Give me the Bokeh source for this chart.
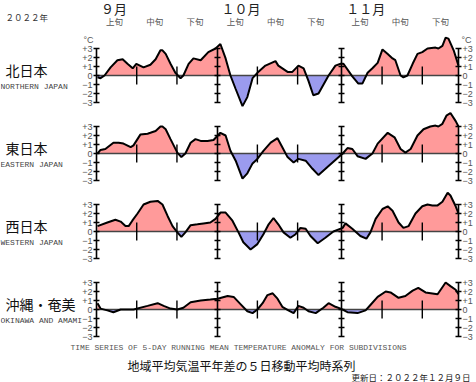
from bokeh.plotting import figure
from bokeh.models import Range1d, LinearAxis, FixedTicker, Label
from bokeh.embed import file_html
from bokeh.resources import INLINE

# ---------------- data ----------------
YEAR_LABEL = "２０２２年"
MONTH_LABELS = ["９月", "１０月", "１１月"]
MONTH_STARTS = [0, 30, 61]          # days since 1 Sep
PERIOD_END = 90                     # 30 Nov
DEKAD_LABELS = ["上旬", "中旬", "下旬"]
DEKAD_STARTS = [0, 10, 20, 30, 40, 50, 61, 71, 81]
TICKS = [-3, -2, -1, 0, 1, 2, 3]
TICK_LABELS = ["−3", "−2", "−1", "0", "+1", "+2", "+3"]
UNIT_LABEL = "°C"

REGION_JA = ["北日本", "東日本", "西日本", "沖縄・奄美"]
REGION_EN = ["NORTHERN JAPAN", "EASTERN JAPAN", "WESTERN JAPAN", "OKINAWA AND AMAMI"]

FOOT_EN = "TIME SERIES OF 5-DAY RUNNING MEAN TEMPERATURE ANOMALY FOR SUBDIVISIONS"
FOOT_JA = "地域平均気温平年差の５日移動平均時系列"
UPDATED = "更新日：２０２２年１２月９日"

NORTH_DAYS = [0.25, 1.0, 2.0, 3.5, 5.2, 6.5, 7.7, 9.0, 9.9, 11.7, 13.4, 14.7, 15.9, 16.4,
              17.2, 18.4, 19.6, 20.9, 21.6, 22.9, 24.1, 25.9, 27.8, 29.6, 30.8, 32.1, 33.3,
              34.6, 36.3, 37.5, 38.8, 40.0, 42.0, 44.5, 45.2, 47.5, 48.7, 50.2, 51.5, 52.7,
              53.9, 55.2, 57.7, 59.4, 60.7, 61.4, 63.6, 65.1, 66.1, 67.4, 68.6, 69.9, 71.1,
              72.4, 73.6, 74.3, 75.6, 76.3, 77.3, 78.6, 79.8, 81.0, 82.3, 84.3, 85.0, 86.0,
              86.8, 87.5, 88.8, 90.0]
NORTH_VALS = [-0.2, -0.3, 0.0, 0.9, 1.7, 1.8, 1.3, 0.8, 1.3, 0.9, 1.2, 1.8, 2.8, 2.8,
              2.4, 1.3, 0.3, -0.3, 0.0, 1.3, 1.9, 1.7, 2.6, 3.0, 3.5, 1.9, 0.0,
              -1.5, -3.4, -2.4, -0.3, 0.3, 1.1, 1.6, 1.1, 0.4, 0.4, 1.1, 0.8, -0.6,
              -2.2, -2.0, 0.0, 1.1, 1.3, 1.3, -0.1, -0.9, -0.9, 0.3, 0.8, 1.4, 2.9,
              2.4, 1.9, 1.7, 0.0, -0.2, 0.0, 1.3, 2.4, 2.6, 3.0, 3.1, 3.0, 3.3,
              4.2, 4.1, 2.8, 1.1]

EAST_DAYS = [0.25, 1.0, 2.2, 4.2, 5.5, 6.7, 8.5, 9.2, 10.9, 12.7, 13.4, 14.7, 15.9, 16.4,
             17.2, 18.4, 20.1, 21.1, 22.1, 23.4, 24.6, 25.9, 27.6, 29.1, 30.8, 32.1, 33.3,
             34.6, 36.3, 37.5, 38.8, 40.0, 41.5, 43.3, 45.0, 46.2, 47.5, 49.0, 50.2, 52.0,
             53.7, 55.2, 57.7, 61.2, 62.4, 63.6, 64.9, 66.9, 68.6, 69.9, 72.4, 74.1, 75.6,
             76.8, 78.1, 79.8, 81.3, 83.0, 84.3, 85.0, 86.0, 87.0, 88.0, 89.3, 90.0]
EAST_VALS = [0.0, 0.4, 0.5, 1.2, 1.2, 1.1, 0.7, 0.9, 2.1, 2.2, 2.3, 2.5, 3.0, 3.0,
             2.7, 1.6, 0.1, -0.4, 0.0, 1.2, 1.6, 1.4, 1.4, 1.5, 2.3, 2.0, 0.3,
             -0.8, -2.8, -2.2, -1.1, -0.6, 0.3, 1.2, 1.7, 0.7, -0.4, -1.0, -0.6, -0.8,
             -1.7, -2.4, -1.4, 0.0, 0.6, 0.5, -0.3, -0.6, 0.0, 1.1, 2.3, 1.8, 0.5,
             0.1, 0.5, 2.0, 2.7, 3.0, 3.1, 3.0, 3.3, 4.2, 4.5, 3.6, 3.0]

WEST_DAYS = [0.25, 2.7, 4.7, 6.0, 7.2, 8.0, 8.9, 10.2, 11.7, 13.4, 15.2, 16.4, 17.7, 18.9,
             20.1, 21.1, 22.1, 23.4, 25.1, 26.6, 28.3, 29.6, 30.8, 32.1, 33.8, 35.3, 36.5,
             38.3, 40.0, 41.5, 42.8, 44.0, 45.2, 46.5, 48.2, 49.5, 50.7, 52.0, 53.2, 55.0,
             56.9, 58.9, 61.2, 61.9, 63.6, 65.6, 67.1, 68.1, 69.4, 71.1, 72.4, 73.6, 75.1,
             76.3, 77.6, 79.3, 81.0, 82.3, 83.5, 84.8, 86.0, 87.3, 88.0, 89.3, 90.0]
WEST_VALS = [0.6, 1.0, 1.3, 1.1, 0.6, 0.6, 1.2, 2.0, 3.0, 3.3, 3.4, 3.0, 1.7, 0.6,
             -0.1, -0.6, -0.1, 0.7, 0.8, 0.9, 1.0, 1.4, 2.1, 2.1, 1.2, -0.1, -1.2,
             -2.0, -1.4, -0.3, 0.8, 1.5, 0.8, -0.1, -0.7, -0.3, 0.4, 0.3, -0.5, -1.3,
             -0.7, 0.0, 0.4, 0.9, 0.3, -0.5, -0.8, -0.1, 1.4, 2.5, 2.8, 2.3, 1.0,
             0.4, 0.6, 2.0, 2.8, 3.0, 2.9, 2.9, 3.3, 4.3, 4.0, 2.8, 2.0]

OKI_DAYS = [0.25, 1.0, 2.7, 4.2, 6.0, 9.2, 12.7, 15.2, 16.7, 18.4, 20.1, 21.6, 23.4, 25.9,
            28.3, 30.1, 32.6, 34.1, 35.8, 37.5, 38.8, 40.0, 41.3, 42.5, 43.8, 45.0, 46.2,
            47.7, 49.0, 50.2, 51.5, 52.7, 54.5, 56.4, 57.7, 59.4, 60.7, 62.4, 64.9, 66.9,
            68.1, 69.9, 71.9, 73.1, 75.1, 76.8, 78.6, 80.0, 81.8, 84.8, 86.8, 88.0, 89.3,
            90.0]
OKI_VALS = [0.7, 0.1, -0.1, -0.3, 0.0, 0.0, 0.4, 0.7, 0.4, 0.1, 0.0, 0.2, 0.8, 1.0,
            1.1, 1.2, 1.5, 1.4, 0.6, -0.2, -0.4, 0.0, 0.7, 1.6, 1.8, 1.2, 0.3,
            -0.1, -0.4, 0.4, 0.2, -0.2, -0.4, 0.2, 0.7, 0.3, 0.1, -0.3, -0.4, -0.1,
            0.5, 1.4, 2.0, 1.9, 1.3, 1.5, 2.1, 2.4, 1.9, 1.7, 3.0, 2.6, 2.2,
            1.7]

SERIES = [(NORTH_DAYS, NORTH_VALS), (EAST_DAYS, EAST_VALS),
          (WEST_DAYS, WEST_VALS), (OKI_DAYS, OKI_VALS)]

# ---------------- layout constants (canvas pixels) ----------------
W, H = 476, 382
AX_LEFT, AX_RIGHT = 96, 458           # pixel columns of day 0 and day 90
PX_DAY = (AX_RIGHT - AX_LEFT) / PERIOD_END
PX_UNIT = 9.0
ZEROS = [75, 153, 231, 309]           # pixel rows of each panel's zero line

POS_COLOR = "#ff9a9a"
NEG_COLOR = "#9b9bee"
JP_FONT = "Noto Sans CJK JP"
MONO = "Liberation Mono"


def X(cx):
    return (cx - AX_LEFT) / PX_DAY


def Y(cy):  # primary range = panel 1
    return (ZEROS[0] - cy) / PX_UNIT


def split(xs, ys):
    xo, po, no = [], [], []
    for i in range(len(xs)):
        if i > 0:
            a, b = ys[i - 1], ys[i]
            if (a < 0 < b) or (b < 0 < a):
                t = a / (a - b)
                xo.append(xs[i - 1] + t * (xs[i] - xs[i - 1]))
                po.append(0.0)
                no.append(0.0)
        xo.append(xs[i])
        po.append(max(ys[i], 0.0))
        no.append(min(ys[i], 0.0))
    return xo, po, no


p = figure(width=W, height=H, x_range=Range1d(X(0), X(W)), y_range=Range1d(Y(H), Y(0)),
           output_backend="svg", toolbar_location=None,
           x_axis_type=None, y_axis_type=None, min_border=0)
p.outline_line_color = None
p.background_fill_color = "white"
p.border_fill_color = "white"

names = []
for k, z in enumerate(ZEROS):
    nm = "panel%d" % k
    names.append(nm)
    p.extra_y_ranges[nm] = Range1d(-(H - z) / PX_UNIT, z / PX_UNIT)

overrides = {t: l for t, l in zip(TICKS, TICK_LABELS)}
inner_months = [m for m in MONTH_STARTS if m != 0]
dekad_marks = [d for d in DEKAD_STARTS if d not in MONTH_STARTS]


def make_axis(rng, loc, labels):
    ax = LinearAxis(y_range_name=rng, fixed_location=loc,
                    ticker=FixedTicker(ticks=TICKS), bounds=(-3, 3),
                    axis_line_width=1.6, axis_line_color="black",
                    major_tick_line_width=1.4, major_tick_line_color="black",
                    major_tick_in=3, major_tick_out=3,
                    minor_tick_line_color=None,
                    major_label_text_font_size="9px",
                    major_label_text_font="Liberation Sans",
                    major_label_standoff=1)
    if labels:
        ax.major_label_overrides = overrides
        ax.major_label_text_color = "#555555"
    else:
        ax.major_label_text_color = None
    return ax


for k, (days, vals) in enumerate(SERIES):
    nm = names[k]
    xs, ps, ns = split(days, vals)
    p.varea(x=xs, y1=0, y2=ps, fill_color=POS_COLOR, y_range_name=nm)
    p.varea(x=xs, y1=ns, y2=0, fill_color=NEG_COLOR, y_range_name=nm)
    p.segment(x0=[MONTH_STARTS[0]], y0=[0], x1=[PERIOD_END], y1=[0],
              line_color="#444444", line_width=1.6, y_range_name=nm)
    p.line(days, vals, line_color="black", line_width=2, y_range_name=nm)
    p.segment(x0=dekad_marks, y0=[-1] * len(dekad_marks), x1=dekad_marks,
              y1=[1] * len(dekad_marks), line_color="black", line_width=1.4,
              y_range_name=nm)

    p.add_layout(make_axis(nm, MONTH_STARTS[0], True), "left")
    for m in inner_months:
        p.add_layout(make_axis(nm, m, False), "left")
    p.add_layout(make_axis(nm, PERIOD_END, True), "right")

    p.add_layout(Label(x=X(5), y=Y(ZEROS[k] - 6), text=REGION_JA[k], text_font=JP_FONT,
                       text_font_size="14px", text_color="#111111",
                       text_baseline="middle", text_align="left"))
    p.add_layout(Label(x=X(0), y=Y(ZEROS[k] + 11), text=REGION_EN[k], text_font=MONO,
                       text_font_size="8px", text_color="#444444",
                       text_baseline="middle", text_align="left"))

# header
p.add_layout(Label(x=X(5), y=Y(16), text=YEAR_LABEL, text_font=JP_FONT,
                   text_font_size="8.5px", text_color="#333333", text_baseline="middle"))
for lab, m in zip(MONTH_LABELS, MONTH_STARTS):
    p.add_layout(Label(x=m + 1.1, y=Y(8), text=lab, text_font=JP_FONT,
                       text_font_size="13px", text_color="#222222", text_baseline="middle"))
for i, d in enumerate(DEKAD_STARTS):
    p.add_layout(Label(x=d + 4.5, y=Y(20), text=DEKAD_LABELS[i % 3], text_font=JP_FONT,
                       text_font_size="8.5px", text_color="#555555",
                       text_baseline="middle", text_align="center"))
p.add_layout(Label(x=X(83), y=Y(39), text=UNIT_LABEL, text_font="Liberation Sans",
                   text_font_size="9px", text_color="#555555", text_baseline="middle"))
p.add_layout(Label(x=X(461), y=Y(39), text=UNIT_LABEL, text_font="Liberation Sans",
                   text_font_size="9px", text_color="#555555", text_baseline="middle"))

# footer
p.add_layout(Label(x=X(238), y=Y(347), text=FOOT_EN, text_font=MONO,
                   text_font_size="8px", text_color="#555555",
                   text_baseline="middle", text_align="center"))
p.add_layout(Label(x=X(241), y=Y(365), text=FOOT_JA, text_font=JP_FONT,
                   text_font_size="12px", text_color="#111111",
                   text_baseline="middle", text_align="center"))
p.add_layout(Label(x=X(470), y=Y(376), text=UPDATED, text_font=JP_FONT,
                   text_font_size="8.5px", text_color="#222222",
                   text_baseline="middle", text_align="right"))

open("out.html", "w").write(file_html(p, INLINE))
